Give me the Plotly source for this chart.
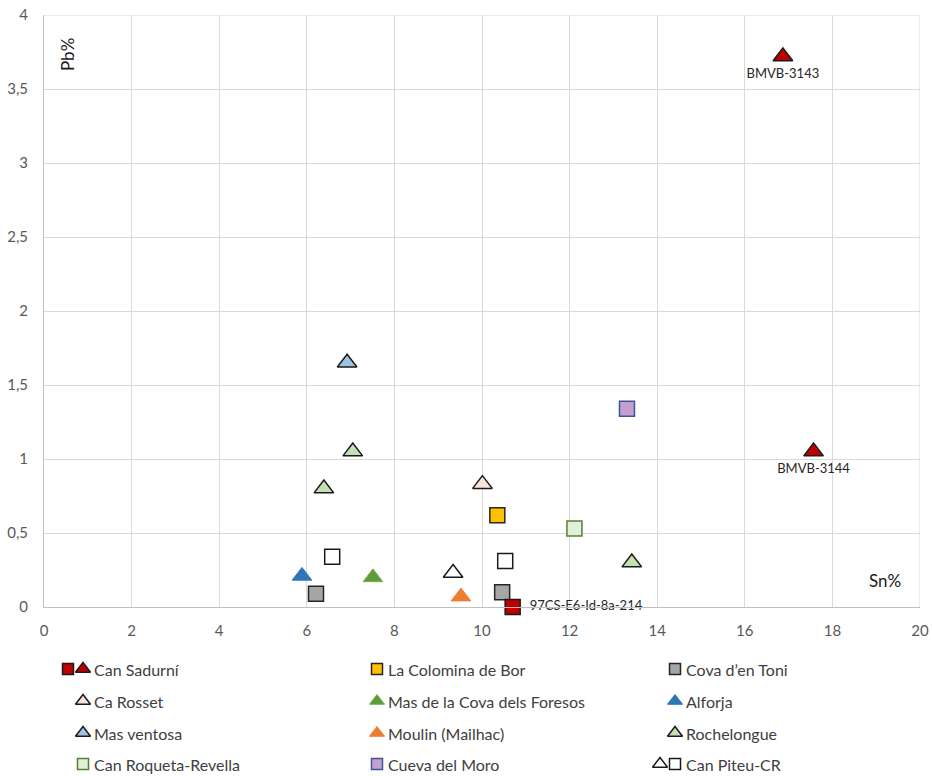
import plotly.graph_objects as go

# Sn% (x) and Pb% (y) per site
can_sadurni_tri_sn = [16.87, 17.57]
can_sadurni_tri_pb = [3.72, 1.05]
can_sadurni_tri_lbl = ["BMVB-3143", "BMVB-3144"]
can_sadurni_sq_sn = [10.70]
can_sadurni_sq_pb = [0.0]
can_sadurni_sq_lbl = ["97CS-E6-Id-8a-214"]
colomina_sn = [10.35]
colomina_pb = [0.62]
cova_toni_sn = [6.21, 10.46]
cova_toni_pb = [0.09, 0.10]
ca_rosset_sn = [10.01]
ca_rosset_pb = [0.83]
foresos_sn = [7.51]
foresos_pb = [0.20]
alforja_sn = [5.89]
alforja_pb = [0.21]
mas_ventosa_sn = [6.92]
mas_ventosa_pb = [1.65]
moulin_sn = [9.52]
moulin_pb = [0.07]
rochelongue_sn = [7.05, 6.39, 13.42]
rochelongue_pb = [1.05, 0.80, 0.30]
roqueta_sn = [12.11]
roqueta_pb = [0.53]
moro_sn = [13.31]
moro_pb = [1.34]
piteu_tri_sn = [9.34]
piteu_tri_pb = [0.23]
piteu_sq_sn = [6.58, 10.53]
piteu_sq_pb = [0.34, 0.31]

x_ticks = [0, 2, 4, 6, 8, 10, 12, 14, 16, 18, 20]
y_ticks = [0, 0.5, 1, 1.5, 2, 2.5, 3, 3.5, 4]

FONT = "Lato"
TRI = "triangle-up"
SQ = "square"

# symbol, fill, border colour, border width
styles = {
    "sad_sq": (SQ, "#C00000", "#1a1a1a", 1.5),
    "sad_tri": (TRI, "#C00000", "#1a1a1a", 1.5),
    "colomina": (SQ, "#FFC000", "#262626", 1.5),
    "toni": (SQ, "#A6A6A6", "#262626", 1.5),
    "rosset": (TRI, "#FBE5D6", "#1a1a1a", 1.5),
    "foresos": (TRI, "#5E9A3C", "#70AD47", 1.0),
    "alforja": (TRI, "#2E75B6", "#2E75B6", 1.0),
    "ventosa": (TRI, "#9DC3E6", "#1a1a1a", 1.5),
    "moulin": (TRI, "#ED7D31", "#ED7D31", 1.0),
    "roche": (TRI, "#C5E0B4", "#1a1a1a", 1.5),
    "roqueta": (SQ, "#E2F0D9", "#548235", 1.5),
    "moro": (SQ, "#C3A0CF", "#3F5597", 1.5),
    "piteu_tri": (TRI, "#FFFFFF", "#1a1a1a", 1.5),
    "piteu_sq": (SQ, "#FFFFFF", "#1a1a1a", 1.5),
}

def marker(key, big=True):
    sym, fill, line, lw = styles[key]
    if sym == TRI:
        size = 17 if big else 13
    else:
        size = 15 if big else 11
    return dict(symbol=sym, size=size, color=fill, line=dict(color=line, width=lw))

fig = go.Figure()

def add_series(key, xs, ys, labels=None, textpos=None):
    fig.add_trace(go.Scatter(
        x=xs, y=ys, mode="markers+text" if labels else "markers",
        marker=marker(key), text=labels, textposition=textpos,
        textfont=dict(family=FONT, size=13, color="#262626"),
        cliponaxis=False, showlegend=False, hoverinfo="x+y",
    ))

add_series("colomina", colomina_sn, colomina_pb)
add_series("toni", cova_toni_sn, cova_toni_pb)
add_series("rosset", ca_rosset_sn, ca_rosset_pb)
add_series("foresos", foresos_sn, foresos_pb)
add_series("alforja", alforja_sn, alforja_pb)
add_series("ventosa", mas_ventosa_sn, mas_ventosa_pb)
add_series("moulin", moulin_sn, moulin_pb)
add_series("roche", rochelongue_sn, rochelongue_pb)
add_series("roqueta", roqueta_sn, roqueta_pb)
add_series("moro", moro_sn, moro_pb)
add_series("piteu_tri", piteu_tri_sn, piteu_tri_pb)
add_series("piteu_sq", piteu_sq_sn, piteu_sq_pb)
add_series("sad_tri", can_sadurni_tri_sn, can_sadurni_tri_pb,
           can_sadurni_tri_lbl, "bottom center")
add_series("sad_sq", can_sadurni_sq_sn, can_sadurni_sq_pb,
           ["  " + s for s in can_sadurni_sq_lbl], "middle right")

# Legend block drawn on its own hidden axes (pixel-like units)
legend_rows = [
    [(["sad_sq", "sad_tri"], "Can Sadurní"), (["colomina"], "La Colomina de Bor"), (["toni"], "Cova d’en Toni")],
    [(["rosset"], "Ca Rosset"), (["foresos"], "Mas de la Cova dels Foresos"), (["alforja"], "Alforja")],
    [(["ventosa"], "Mas ventosa"), (["moulin"], "Moulin (Mailhac)"), (["roche"], "Rochelongue")],
    [(["roqueta"], "Can Roqueta-Revella"), (["moro"], "Cueva del Moro"), (["piteu_tri", "piteu_sq"], "Can Piteu-CR")],
]
col_marker_x = [83, 377, 675]
row_y = [669, 701, 733, 764]
for r, row in enumerate(legend_rows):
    for c, (keys, name) in enumerate(row):
        mx = col_marker_x[c]
        for k_i, key in enumerate(reversed(keys)):
            fig.add_trace(go.Scatter(
                x=[mx - 15 * k_i], y=[row_y[r]], mode="markers",
                marker=marker(key, big=False), xaxis="x2", yaxis="y2",
                showlegend=False, hoverinfo="skip", cliponaxis=False,
            ))
        fig.add_annotation(
            x=mx + 9, y=row_y[r], xref="x2", yref="y2", text=name,
            showarrow=False, xanchor="left", yanchor="middle",
            font=dict(family=FONT, size=16, color="#404040"),
        )

# axis captions inside the plot area
fig.add_annotation(x=0.55, y=3.73, xref="x", yref="y", text="Pb%",
                   textangle=-90, showarrow=False, xanchor="center", yanchor="middle",
                   font=dict(family=FONT, size=17, color="#1a1a1a"))
fig.add_annotation(x=19.2, y=0.18, xref="x", yref="y", text="Sn%",
                   showarrow=False, xanchor="center", yanchor="middle",
                   font=dict(family=FONT, size=17, color="#1a1a1a"))

W, H = 932, 776
ml, mr, mt, mb = 44, 12, 15, 0
plot_h = H - mt - mb
y_bottom_px = 607
main_lo = (H - mb - y_bottom_px) / plot_h
legend_top_px = y_bottom_px + 40

fig.update_layout(
    width=W, height=H,
    margin=dict(l=ml, r=mr, t=mt, b=mb, autoexpand=False),
    paper_bgcolor="white", plot_bgcolor="white",
    separators=",.",
    xaxis=dict(range=[0, 20], tickvals=x_ticks, showgrid=True, gridcolor="#D9D9D9",
               gridwidth=1, zeroline=False, showline=True, linecolor="#BFBFBF",
               ticks="", ticklabelstandoff=10,
               tickfont=dict(family=FONT, size=15, color="#595959"), anchor="y",
               domain=[0, 1]),
    yaxis=dict(range=[0, 4], tickvals=y_ticks, showgrid=True, gridcolor="#D9D9D9",
               gridwidth=1, zeroline=False, showline=True, linecolor="#BFBFBF",
               ticks="", ticklabelstandoff=12,
               tickfont=dict(family=FONT, size=15, color="#595959"), anchor="x",
               domain=[main_lo, 1]),
    xaxis2=dict(range=[ml, W - mr], visible=False, domain=[0, 1], anchor="y2"),
    yaxis2=dict(range=[H - mb, legend_top_px], visible=False,
                domain=[0, (H - mb - legend_top_px) / plot_h], anchor="x2"),
)
# right and top gridlines at the range ends
fig.add_shape(type="line", xref="x", yref="y", x0=20, x1=20, y0=0, y1=4,
              line=dict(color="#D9D9D9", width=1), layer="below")
fig.add_shape(type="line", xref="x", yref="y", x0=0, x1=20, y0=4, y1=4,
              line=dict(color="#D9D9D9", width=1), layer="below")

fig.write_html("out.html")
